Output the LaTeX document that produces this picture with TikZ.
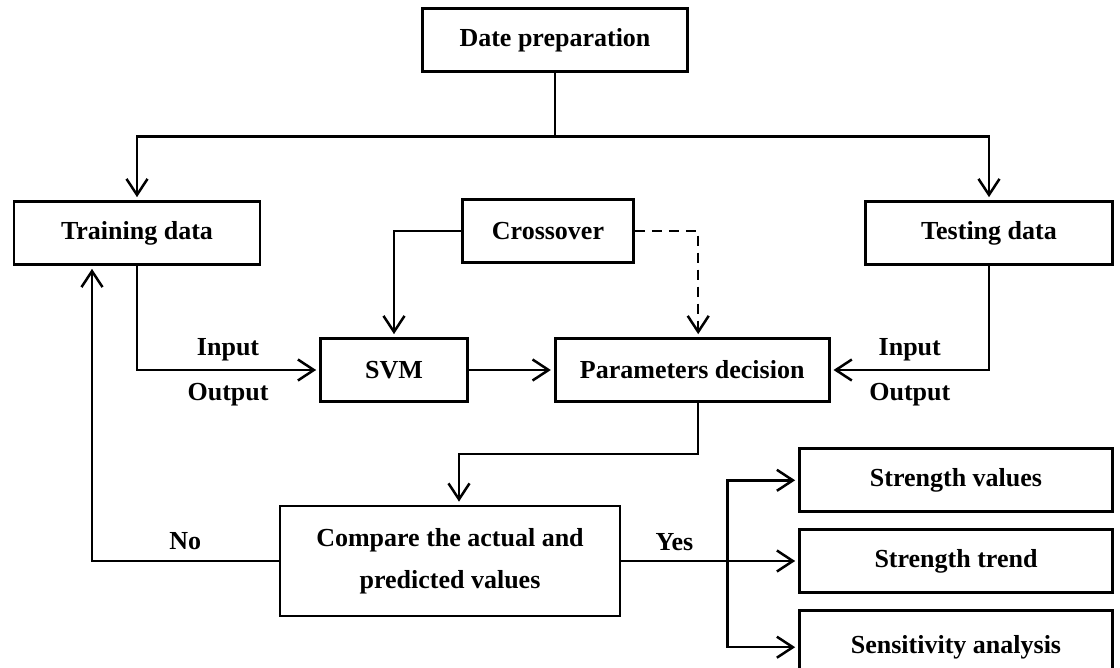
\documentclass[tikz,border=0pt]{standalone}
\usepackage{fontspec}
\setmainfont{Liberation Serif}
\usepackage{tikz}
\usetikzlibrary{arrows.meta,positioning,calc}
\tikzset{
  boxfont/.style={font=\fontsize{26}{42}\selectfont\bfseries},
  databox/.style={rectangle, draw=black, line width=2.7pt, align=center, inner sep=2pt, minimum height=63pt},
  flowline/.style={line width=2.5pt, draw=black},
  flowarr/.style={flowline, -{Straight Barb[length=16pt,width=21pt,line join=miter]}, shorten >=3pt},
  dasharr/.style={flowarr, dash pattern=on 10pt off 7pt},
  flbl/.style={inner sep=3pt},
}

\begin{document}
\begin{tikzpicture}[x=1pt, y=-1pt, boxfont]
  \useasboundingbox (0,0) rectangle (1120,668);
  \node[databox, minimum width=265pt] (prep) at (555,40) {Date preparation};
  \node[databox, minimum width=246pt] (train) at (137,233) {Training data};
  \node[databox, minimum width=171pt] (cross) at (548,231) {Crossover};
  \node[databox, minimum width=247pt] (test) at (989,233) {Testing data};
  \node[databox, minimum width=147pt] (svm) at (394,370) {SVM};
  \node[databox, minimum width=274pt, right=85pt of svm] (param) {Parameters decision};
  \node[databox, minimum width=340pt, minimum height=110pt] (cmp) at (450,561) {Compare the actual and\\predicted values};
  \node[databox, minimum width=313pt] (trend) at (956,561) {Strength trend};
  \node[databox, minimum width=313pt, above=15pt of trend] (values) {Strength values};
  \node[databox, minimum width=313pt, minimum height=74pt, below=15pt of trend] (sens) {Sensitivity analysis};
  % split to training / testing
  \coordinate (fork) at ($(prep.south)!0.5!(prep.south |- train.north)$);
  \draw[flowline] (prep.south) -- (fork);
  \draw[flowarr] (fork) -| (train.north);
  \draw[flowarr] (fork) -| (test.north);
  \draw[flowarr] (cross.west) -| (svm.north);
  \draw[dasharr] (cross.east) -| ([xshift=6pt]param.north);
  \draw[flowarr] (train.south) |- node[pos=0.75, above=5pt, flbl] {Input} node[pos=0.75, below=9pt, flbl] {Output} (svm.west);
  \draw[flowarr] (test.south) |- node[pos=0.75, above=5pt, flbl] {Input} node[pos=0.75, below=9pt, flbl] {Output} (param.east);
  \draw[flowarr] (svm) -- (param);
  \coordinate (turn) at ($(param.south)!0.5!(cmp.north)$);
  \draw[flowarr] ([xshift=6pt]param.south) |- (turn) -| ([xshift=9pt]cmp.north);
  % result check
  \draw[flowarr] (cmp.west) -| node[pos=0.25, above=7pt, flbl] {No} ([xshift=-45pt]train.south);
  \draw[flowarr] (cmp.east) -- node[pos=0.3, above=6pt, flbl] {Yes} (trend.west);
  \coordinate (split) at ($(cmp.east)!0.6!(trend.west)$);
  \draw[flowarr] (split) |- (values.west);
  \draw[flowarr] (split) |- (sens.west);
\end{tikzpicture}
\end{document}
